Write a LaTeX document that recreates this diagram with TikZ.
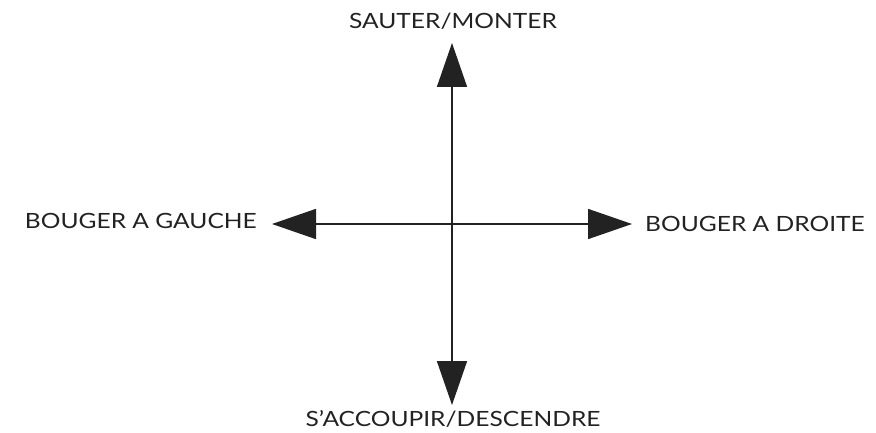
\documentclass[tikz,border=0pt]{standalone}
\usepackage{fontspec}
\setmainfont[FakeStretch=1.17]{Lato}
\usetikzlibrary{arrows.meta}
\definecolor{ink}{HTML}{222222}
\tikzset{
  axis/.style={draw=ink, line width=1.6pt, -{Triangle[length=44pt, width=30pt]}, fill=ink},
  lbl/.style={text=ink, font=\fontsize{21}{24}\selectfont, inner sep=0pt}
}
\begin{document}
\begin{tikzpicture}[x=1pt, y=-1pt]
\useasboundingbox (0,0) rectangle (876,433);
\coordinate (c) at (452,224);
\coordinate (up) at (452,43);
\coordinate (dn) at (452,405);
\coordinate (lt) at (272,224);
\coordinate (rt) at (632,224);
\draw[axis] (c) -- (up);
\draw[axis] (c) -- (dn);
\draw[axis] (c) -- (lt);
\draw[axis] (c) -- (rt);
\node[lbl] (tup) at (453,21) {SAUTER/MONTER};
\node[lbl] (tdn) at (453,419) {S’ACCOUPIR/DESCENDRE};
\node[lbl, anchor=east] (tlt) at (257,221) {BOUGER A GAUCHE};
\node[lbl, anchor=west] (trt) at (645,224) {BOUGER A DROITE};
\end{tikzpicture}
\end{document}
